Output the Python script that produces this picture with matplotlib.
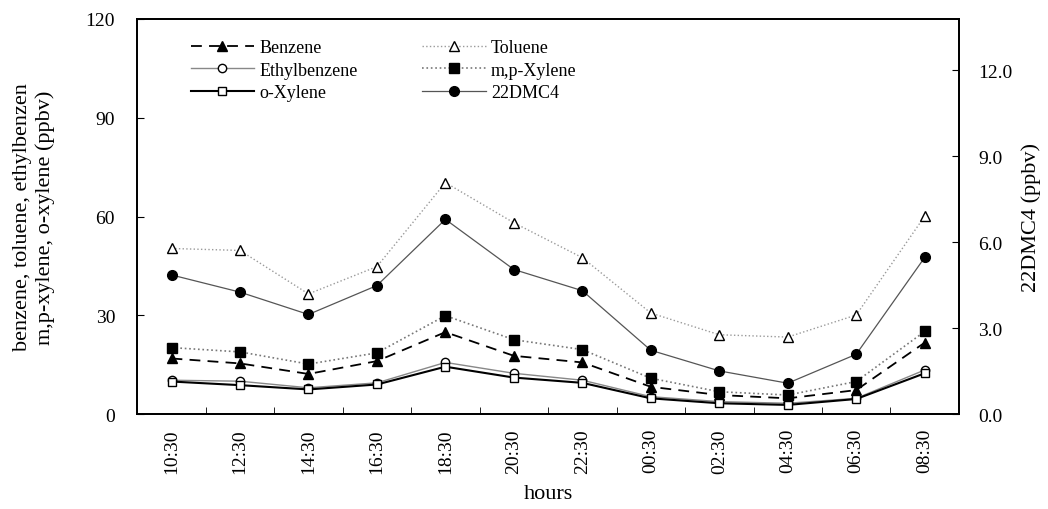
import matplotlib.pyplot as plt

hours = ['10:30', '12:30', '14:30', '16:30', '18:30', '20:30',
         '22:30', '00:30', '02:30', '04:30', '06:30', '08:30']

benzene      = [16.9, 15.4, 12.2, 16.1, 24.9, 17.7, 15.7, 8.3, 5.8, 4.8, 7.3, 21.7]
toluene      = [50.3, 49.7, 36.5, 44.8, 70.3, 58.1, 47.5, 30.7, 24.1, 23.4, 30.1, 60.1]
ethylbenzene = [10.3, 10.0, 8.0, 9.5, 15.7, 12.4, 10.3, 5.3, 3.8, 3.3, 4.8, 13.4]
mp_xylene    = [20.2, 18.9, 15.2, 18.6, 29.9, 22.6, 19.6, 10.9, 6.8, 5.8, 9.9, 25.1]
o_xylene     = [9.9, 8.8, 7.5, 9.0, 14.4, 11.1, 9.5, 4.8, 3.3, 2.8, 4.6, 12.4]
dmc4         = [4.86, 4.26, 3.48, 4.49, 6.80, 5.05, 4.31, 2.23, 1.51, 1.08, 2.09, 5.47]

plt.rcParams['font.family'] = 'Liberation Serif'
plt.rcParams['font.size'] = 14

fig = plt.figure(figsize=(10.48, 5.10), dpi=100)
ax = fig.add_axes([0.131, 0.186, 0.784, 0.775])
ax2 = ax.twinx()

x = list(range(len(hours)))

l1, = ax.plot(x, benzene, color='black', ls=(0, (6, 4)), lw=1.3, marker='^',
              ms=7, mfc='black', label='Benzene')
l2, = ax.plot(x, toluene, color='#9a9a9a', ls=':', lw=1.0, marker='^',
              ms=7, mfc='white', mec='black', label='Toluene')
l3, = ax.plot(x, ethylbenzene, color='#888888', ls='-', lw=1.0, marker='o',
              ms=6, mfc='white', mec='black', label='Ethylbenzene')
l4, = ax.plot(x, mp_xylene, color='#777777', ls=':', lw=1.2, marker='s',
              ms=7, mfc='black', mec='black', label='m,p-Xylene')
l5, = ax.plot(x, o_xylene, color='black', ls='-', lw=1.5, marker='s',
              ms=6, mfc='white', mec='black', label='o-Xylene')
l6, = ax2.plot(x, dmc4, color='#555555', ls='-', lw=0.9, marker='o',
               ms=7, mfc='black', mec='black', label='22DMC4')

ax.set_xlim(-0.5, len(hours) - 0.5)
ax.set_ylim(0, 120)
ax.set_yticks([0, 30, 60, 90, 120])
ax2.set_ylim(0, 13.8)
ax2.set_yticks([0, 3, 6, 9, 12])
ax2.set_yticklabels(['0.0', '3.0', '6.0', '9.0', '12.0'])

ax.set_xticks(x)
ax.set_xticklabels(hours, rotation=90)
ax.set_xticks([i + 0.5 for i in x[:-1]], minor=True)
ax.tick_params(axis='x', which='major', length=0, pad=10)
ax.tick_params(axis='x', which='minor', direction='in', length=5)
ax.tick_params(axis='y', direction='in', length=5, pad=16)
ax2.tick_params(axis='y', direction='in', length=5, pad=14)

ax.set_xlabel('hours', fontsize=16, labelpad=8)
ax.set_ylabel('benzene, toluene, ethylbenzen\nm,p-xylene, o-xylene (ppbv)',
              fontsize=16, labelpad=22)
ax2.set_ylabel('22DMC4 (ppbv)', fontsize=16, labelpad=6)

for a in (ax, ax2):
    for s in a.spines.values():
        s.set_linewidth(1.3)

ax.legend(handles=[l1, l3, l5, l2, l4, l6], ncol=2, frameon=False,
          loc='upper left', bbox_to_anchor=(0.045, 0.99), fontsize=13,
          handlelength=3.5, handletextpad=0.3, columnspacing=3.6,
          labelspacing=0.3)

fig.savefig('out.png', dpi=100)
